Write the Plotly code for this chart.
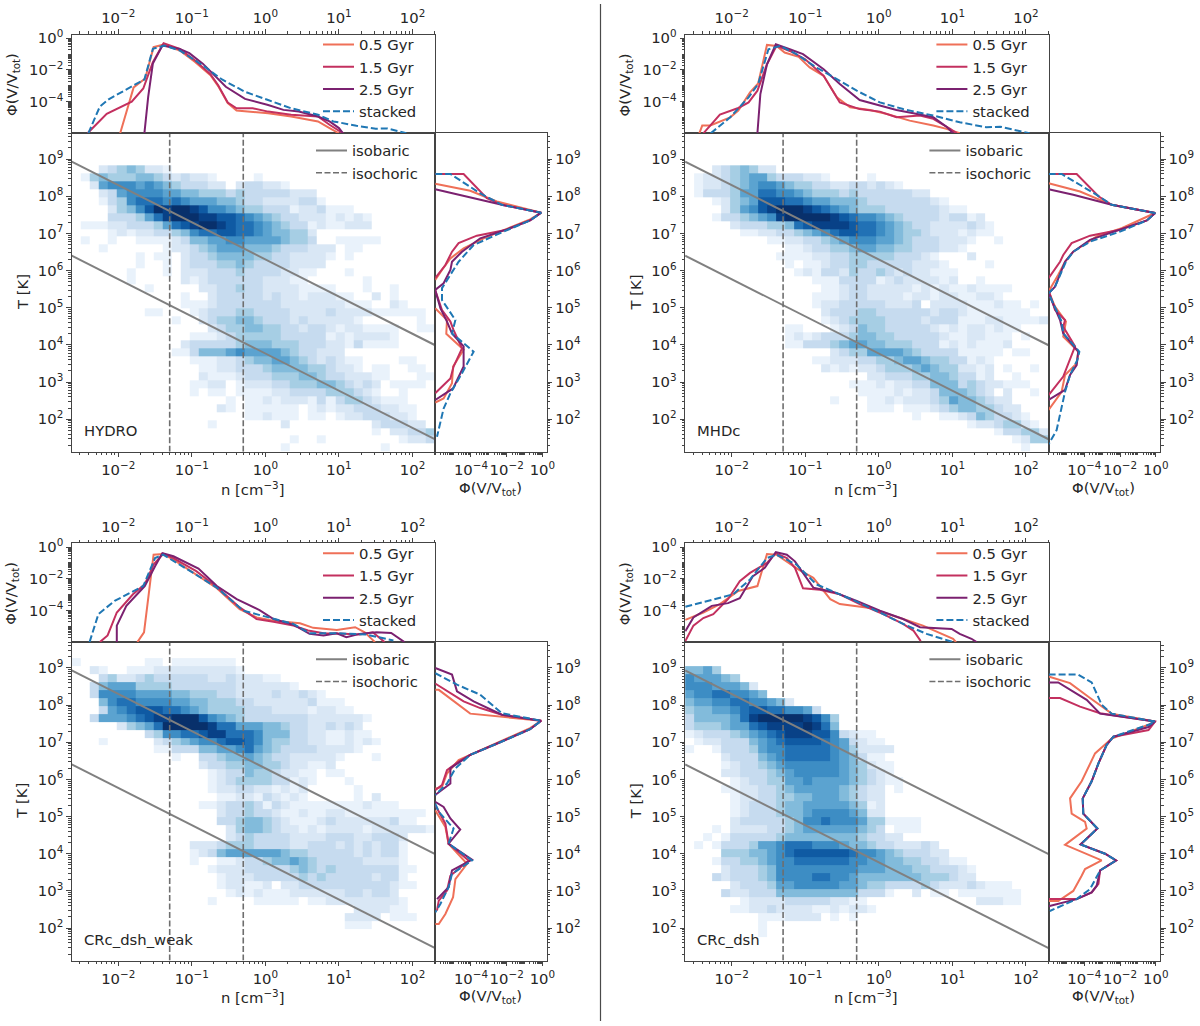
import plotly.graph_objects as go

# ---------- axis extents (log10) ----------
N_RANGE = [-2.633, 2.308]
T_RANGE = [1.128, 9.695]
PHI_RANGE = [-6.0, 0.24]
N_BINS = 40
N_TICKS = [-2, -1, 0, 1, 2]
T_TICKS = [2, 3, 4, 5, 6, 7, 8, 9]
PHI_TICKS_TOP = [0, -2, -4]
PHI_TICKS_RIGHT = [-4, -2, 0]
ISOBARIC_LOG_N = [-2.633, 2.308]
ISOBARIC_HIGH_LOG_T = [8.933, 3.992]
ISOBARIC_LOW_LOG_T = [6.403, 1.462]
ISOCHORIC_N = [0.05, 0.5]
TIME_NAMES = ["0.5 Gyr", "1.5 Gyr", "2.5 Gyr", "stacked"]
PANEL_NAMES = ["HYDRO", "MHDc", "CRc_dsh_weak", "CRc_dsh"]

# ---------- 2D histograms: one text row per T bin (top to bottom), "first_bin:levels", levels 1..b ----------
HYDRO_MAP = ["", "", "", "",
 "3:23454221", "1:145444554323221....1", "2:267776765433322.233221", "3:236777766554443433333222",
 "3:1347888787666554332222331", "4:24579babba97765443331223111", "4:333468abbbaa99876543322212121",
 "1:111223334689abba9887654331211222", "4:12122334578899887655442", "1:1..1..11112355667766665443..11111",
 "3:1......1223456665554333222.11", "7:1.11.23345555443322221.1", "7:1..1.2333445433332222",
 "6:1...1.222333433332211...1", "6:1.....21233333322211......1", "8:1.....223343322221111...1..1",
 "12:1..2333332322122211..2.1", "12:111233333332222222111..21", "8:11...12333443333222232222111111",
 "11:1..234455433323222221......1", "15:234455443323321221111..11", "13:11123444443333312122221",
 "12:233333455544433322131111", "11:1135556766665433222", "13:1112234556654323211....11",
 "14:112233345555443221.11..11", "14:211123334445543322211...11", "13:1122.1222334445543232.1111",
 "13:1.11.1111223333444321..1", "17:1.112122213134432111", "16:21.111111.121223332211",
 "19:112111.11.122333221", "15:1.......2.........233322", "33:1.22334", "24:1..1........1223", "23:1..........1"]

MHDC_MAP = ["", "", "", "",
 "3:2345422", "1:122345664333221....1", "1:12234567765443322332321", "1:13334668877654443433333322",
 "3:12456999887665554333333321", "4:24679abbba98765444333333211", "3:1334567abbbbba9877654333323312",
 "5:233344589aaaa9887654332222321", "6:1122334567899887654432221211", "9:11223345677766543332221..1",
 "11:11233445665544333221", "10:111122334444433321...2", "11:1.1123344333332221....1",
 "12:121332433432322111", "14:1113333123222212..1", "15:112332222212121121111",
 "14:111233222212212211221", "14:122333332223.2222111211.1", "15:23334433333323321111111",
 "15:1234444333323331112211112", "11:11...123544333332121221211", "11:1212333455443333321122111.1",
 "11:1133345665544433312121112", "16:2344666654333311111.11", "14:11222334456654433121",
 "15:2121223444565442212.1..1", "20:22333445543312..1", "18:11121223355534322111",
 "19:111121223555432.2..1", "16:1...1121222346554322", "20:111.1112345544322",
 "25:1..1123543321", "31:12234421", "34:133442", "36:1244", "37:1"]

WEAK_MAP = ["", "",
 "0:1.......11.1111111", "2:21..1112222222221", "3:34223433333322322211", "2:35666444433333332222221",
 "2:37777666655444332222322321", "3:578877776655444332222223111", "3:3678999887654444333222212211",
 "2:3666789aabbb9765433333332222221", "5:24568bbbbba8866655433223232",
 "8:3477889aa8887555332211211", "3:1.....2345677899875443322112121", "9:11333556678654333322221",
 "11:1..3345565433222221...1", "14:233445544322112", "15:123354432211.11", "15:123444433121...1",
 "15:12233221212.....1", "16:1122132121.....1.2", "14:1123343132111111112111",
 "16:23343321121122111111111", "16:3345543211123222222311", "17:24554322121222212222221",
 "17:23433332222333223332", "13:222344433332233323232331", "13:123566666654433333232331",
 "13:1..112334556543333322221", "15:12223333345434333333311", "16:122233333434333332331",
 "16:122112.223333333333211", "17:1212111222222332332", "15:1....11111.11222222221",
 "31:222211", "30:2222.111", "30:111", "", "", "", ""]

DSH_MAP = ["", "", "",
 "0:5564", "0:766654", "0:77766652", "0:677887765", "0:566778877652", "0:455667899887763",
 "0:3555568abbbbba974", "0:344456689aaaaba85", "0:12333456789aaa9973211", "1:122333567899998763211",
 "0:1..13334677888887642222", "4:233356788888765311", "4:1233456777777654211", "4:2233345677777654321",
 "5:1233446676666543211", "4:112233456666654322.1", "5:12233445566654322", "5:12333455666665412",
 "5:12333455677776522", "5:233333457787776441111", "3:1.22223345666666543.111",
 "2:1.13333345555555543322", "1:1.1333466788877765543322232",
 "4:4445567899999987765433322", "3:1334456778888887766554433211", "4:2333457777777776665554433321",
 "3:32333457777887765555555444322", "5:2333466777776654433334322232111",
 "4:3223335555555553331..2.11.1111111", "6:12222333332211............22211",
 "5:1122322221121221", "8:1112222.1.1", "8:1", "8:1", "", "", ""]

# ---------- top panels: log10 n and log10 Phi ----------
H_TOP_05_N = [-1.974,-1.791,-1.634,-1.52,-1.384,-1.164,-0.956,-0.747,-0.642,-0.512,-0.392,-0.172,0.037,0.35,0.715,0.872,1.0]
H_TOP_05_P = [-6,-3.10,-2.54,-0.56,-0.40,-0.77,-1.5,-2.33,-3.02,-4.1,-4.56,-4.63,-4.73,-4.94,-5.25,-5.67,-6]
H_TOP_15_N = [-2.418,-2.157,-1.817,-1.66,-1.53,-1.384,-1.164,-0.956,-0.747,-0.642,-0.512,-0.392,-0.172,0.037,0.35,0.715,0.872,1.055]
H_TOP_15_P = [-6,-4.77,-4.0,-3.17,-1.5,-0.31,-0.67,-1.40,-2.27,-2.96,-4.06,-4.42,-4.42,-4.63,-4.83,-4.94,-5.46,-6]
H_TOP_25_N = [-1.645,-1.593,-1.53,-1.4,-1.164,-1.034,-0.851,-0.538,-0.277,0.037,0.245,0.454,0.715,0.872,1.0,1.055]
H_TOP_25_P = [-6,-3.69,-1.6,-0.46,-0.67,-0.94,-1.6,-3.06,-3.83,-4.21,-4.52,-4.63,-4.94,-5.25,-5.67,-6]
H_TOP_ST_N = [-2.407,-2.25,-2.13,-1.817,-1.645,-1.53,-1.373,-1.164,-0.851,-0.59,-0.277,0.037,0.35,0.715,0.924,1.238,1.5,1.655,1.916]
H_TOP_ST_P = [-6,-4.31,-3.85,-3.06,-2.6,-0.67,-0.46,-0.77,-1.71,-2.6,-3.38,-3.9,-4.42,-4.83,-5.25,-5.52,-5.71,-5.69,-6]

M_TOP_05_N = [-2.44,-2.40,-2.29,-2.02,-1.91,-1.75,-1.64,-1.52,-1.39,-1.28,-1.09,-0.94,-0.75,-0.57,-0.39,-0.12,0.11,0.42,0.74,0.92,1.10]
M_TOP_05_P = [-6,-5.51,-5.51,-4.99,-4.57,-3.42,-2.85,-0.42,-0.48,-0.9,-1.17,-1.84,-2.37,-3.73,-4.36,-4.53,-4.78,-5.2,-5.51,-5.72,-6]
M_TOP_15_N = [-2.385,-2.16,-1.91,-1.77,-1.65,-1.52,-1.39,-1.21,-1,-0.75,-0.53,-0.26,0.015,0.24,0.56,0.74,0.97,1.06]
M_TOP_15_P = [-6,-4.82,-4.4,-4.05,-3.31,-1.64,-0.48,-0.8,-1.32,-2.37,-4.05,-4.47,-4.63,-4.99,-4.88,-5.09,-5.72,-6]
M_TOP_25_N = [-1.65,-1.61,-1.52,-1.4,-1.21,-1.03,-0.75,-0.53,-0.26,0.015,0.24,0.47,0.74,0.92,1.01]
M_TOP_25_P = [-6,-3.52,-1.64,-0.38,-0.69,-1,-1.95,-2.89,-3.9,-4.26,-4.53,-4.74,-4.99,-5.58,-6]
M_TOP_ST_N = [-2.285,-2.02,-1.77,-1.64,-1.5,-1.34,-1.12,-0.85,-0.57,-0.3,0.015,0.33,0.74,1.1,1.46,1.65,2.05]
M_TOP_ST_P = [-6,-4.99,-3.73,-2.89,-0.69,-0.48,-1,-1.84,-2.58,-3.31,-4.05,-4.47,-4.88,-5.3,-5.62,-5.58,-6]

W_TOP_05_N = [-1.74,-1.65,-1.52,-1.39,-1.25,-0.98,-0.66,-0.35,-0.12,0.11,0.47,0.65,0.97,1.22,1.35,1.49]
W_TOP_05_P = [-6,-5.38,-0.48,-0.44,-0.79,-1.63,-2.6,-3.92,-4.44,-4.65,-4.81,-5.1,-5.23,-5.06,-5.38,-6]
W_TOP_15_N = [-2.25,-2.145,-2.02,-1.8,-1.64,-1.52,-1.39,-1.25,-0.94,-0.66,-0.35,-0.12,0.11,0.38,0.58,0.79,1.06,1.28,1.46,1.62]
W_TOP_15_P = [-6,-5.58,-4.13,-2.98,-2.35,-1.1,-0.42,-0.69,-1.52,-2.52,-3.81,-4.54,-4.71,-4.96,-5.27,-5.44,-5.48,-5.52,-5.38,-6]
W_TOP_25_N = [-2.02,-2.02,-1.89,-1.64,-1.5,-1.4,-1.25,-0.91,-0.66,-0.39,-0.08,0.11,0.38,0.6,0.79,0.97,1.1,1.28,1.51,1.71,1.89]
W_TOP_25_P = [-6,-4.96,-3.71,-2.46,-1.21,-0.38,-0.58,-1.35,-2.46,-3.29,-3.98,-4.54,-4.9,-5.48,-5.58,-5.44,-5.69,-5.48,-5.38,-5.42,-6]
W_TOP_ST_N = [-2.39,-2.27,-2.05,-1.66,-1.5,-1.39,-0.98,-0.66,-0.3,0.11,0.38,0.6,0.97,1.37,1.74]
W_TOP_ST_P = [-6,-4.23,-3.4,-2.46,-0.69,-0.48,-1.63,-2.56,-4.02,-4.54,-4.85,-5.44,-5.44,-5.52,-5.9]

D_TOP_05_N = [-2.63,-2.385,-2.16,-1.91,-1.65,-1.52,-1.39,-1.25,-1.09,-0.89,-0.66,-0.53,-0.12,0.33,0.6,1.01,1.05]
D_TOP_05_P = [-4.6,-4.13,-3.6,-2.77,-2.46,-0.44,-0.48,-0.9,-1.42,-1.94,-3.29,-3.6,-3.85,-4.54,-4.96,-5.79,-6]
D_TOP_15_N = [-2.63,-2.52,-2.385,-2.25,-2.05,-1.89,-1.75,-1.52,-1.4,-1.25,-1.14,-1.03,-0.8,-0.53,-0.26,0.06,0.33,0.47,0.57]
D_TOP_15_P = [-5.94,-4.96,-4.48,-4.23,-3.29,-2.15,-1.63,-1,-0.38,-0.69,-1.31,-2.6,-2.69,-2.98,-3.6,-4.23,-4.85,-5.27,-5.94]
D_TOP_25_N = [-2.63,-2.52,-2.27,-2.05,-1.89,-1.71,-1.55,-1.4,-1.25,-1.14,-0.89,-0.62,-0.3,0.015,0.33,0.56,0.99,1.1,1.26,1.33]
D_TOP_25_P = [-5.31,-4.44,-3.71,-3.54,-3.23,-1.83,-1.31,-0.31,-0.48,-0.9,-2.56,-2.83,-3.4,-4.02,-4.54,-5.06,-5.17,-5.48,-5.79,-6]
D_TOP_ST_N = [-2.63,-2.29,-1.98,-1.75,-1.52,-1.39,-1.12,-0.85,-0.57,-0.3,0.015,0.33,0.65,1.01]
D_TOP_ST_P = [-3.77,-3.35,-2.98,-2.04,-0.69,-0.48,-1.1,-2.35,-2.88,-3.44,-4.13,-4.85,-5.48,-6]

# ---------- right panels: log10 Phi and log10 T ----------
H_R_05_P = [-6,-4.04,-2.55,-0.07,-0.69,-1.9,-3.29,-4.41,-5.15,-5.62,-6,None,-6,-5.34,-5.38,-4.41,-5.0,-5.06,-5.53,-6]
H_R_05_T = [8.34,8.15,7.86,7.56,7.38,7.14,6.87,6.60,6.33,6.02,5.75,None,4.99,4.67,4.30,3.87,3.42,2.97,2.56,2.45]
H_R_15_P = [-6,-4.41,-3.11,-2.27,-0.07,-0.69,-1.99,-3.67,-4.69,-5.06,-5.43,-6,None,-6,-5.62,-5.15,-4.97,-4.5,-4.97,-5.15,-6]
H_R_15_T = [8.6,8.6,7.95,7.77,7.56,7.35,7.10,6.94,6.74,6.51,6.15,5.80,None,5.48,4.94,4.63,4.40,3.91,3.42,3.10,2.70]
H_R_25_P = [-6,-4.41,-2.27,-0.07,-0.69,-1.99,-3.48,-4.5,-5.06,-5.15,-5.53,-6,-5.71,-5.34,-5.06,-4.41,-4.41,-5.0,-6]
H_R_25_T = [8.19,8.01,7.77,7.56,7.35,7.11,6.87,6.51,6.24,6.02,5.66,5.48,4.99,4.63,4.31,3.96,3.42,2.83,2.52]
H_R_ST_P = [-6,-5.15,-3.48,-2.27,-0.07,-0.69,-2.36,-3.85,-4.69,-5.62,-5.62,-4.87,-5.06,-3.85,-4.5,-5.15,-5.53,-5.9]
H_R_ST_T = [8.6,8.6,8.08,7.77,7.56,7.35,7.01,6.69,6.24,5.53,5.21,4.67,4.31,3.82,3.24,2.70,2.29,1.53]

M_R_05_P = [-6,-4.24,-2.47,-0.04,-0.41,-1.91,-3.31,-4.62,-5.08,-5.46,-6,-5.64,-5.03,-5.18,-4.34,-4.43,-5.08,-5.27,-6]
M_R_05_T = [8.35,8.13,7.77,7.55,7.47,7.14,6.92,6.51,6.24,5.89,5.44,5.03,4.63,4.22,3.82,3.5,3.19,2.74,2.25]
M_R_15_P = [-6,-4.43,-3.21,-2.47,-0.04,-0.5,-2,-3.68,-4.71,-5.18,-5.36,-6,None,-6,-5.64,-5.08,-5.18,-4.52,-4.8,-5.18,-6]
M_R_15_T = [8.6,8.6,8.0,7.77,7.55,7.35,7.1,6.94,6.74,6.42,6.24,5.8,None,5.48,4.94,4.67,4.49,3.96,3.6,3.15,2.65]
M_R_25_P = [-6,-4.62,-2.47,-0.04,-0.5,-2,-3.68,-4.62,-5.08,-5.64,-6,-5.36,-5.18,-4.34,-4.43,-4.8,-5.08,-6]
M_R_25_T = [8.19,8.04,7.77,7.55,7.35,7.1,6.83,6.51,6.24,5.57,5.39,4.67,4.31,3.82,3.46,3.19,2.79,2.52]
M_R_ST_P = [-6,-5.27,-3.31,-2.47,-0.04,-0.5,-2,-3.68,-4.62,-5.03,-5.64,-6,-5.27,-5.18,-4.28,-4.39,-4.8,-5.08,-5.55,-6]
M_R_ST_T = [8.6,8.6,8.04,7.77,7.55,7.35,7.05,6.78,6.51,6.24,5.57,5.39,4.63,4.31,3.82,3.6,3.19,2.74,1.71,1.33]

W_R_05_P = [-6,-5.8,-4.04,-0.07,-0.69,-2.55,-4.04,-4.69,-5.34,-5.62,-6,None,-6,-5.43,-5.25,-4.22,-4.87,-5.0,-5.43,-5.8,-6]
W_R_05_T = [8.41,8.41,7.77,7.58,7.38,6.97,6.66,6.52,6.16,5.8,5.75,None,5.17,4.72,4.27,3.73,3.32,2.83,2.38,2.11,2.11]
W_R_15_P = [-6,-4.41,-3.48,-2.27,-0.07,-0.69,-2.55,-4.04,-4.69,-5.34,-5.62,-6,None,-6,-5.43,-5.25,-4.13,-5.15,-5.34,-5.8,-5.9]
W_R_15_T = [8.58,8.1,7.92,7.74,7.58,7.35,6.96,6.66,6.48,6.25,5.85,5.71,None,5.31,4.81,4.27,3.82,3.41,3.01,2.74,2.47]
W_R_25_P = [-6,-5.06,-4.78,-3.85,-2.27,-0.07,-0.69,-2.55,-4.04,-5.15,-5.15,-6,None,-6,-5.53,-5.15,-4.6,-5.25,-3.94,-5.06,-5.25,-5.9]
W_R_25_T = [9,8.82,8.37,8.1,7.74,7.58,7.35,6.96,6.66,6.3,5.89,5.58,None,5.4,5.26,4.95,4.65,4.27,3.84,3.55,3.1,2.78]
W_R_ST_P = [-6,-4.78,-3.48,-2.27,-0.07,-0.69,-2.55,-4.04,-4.87,-5.34,-6,None,-6,-5.8,-4.97,-5.25,-3.94,-5.06,-5.25,-5.71,-6]
W_R_ST_T = [8.86,8.55,8.28,7.78,7.58,7.35,6.96,6.66,6.3,5.89,5.58,None,5.35,5.13,4.68,4.27,3.82,3.46,3.1,2.65,2.42]

D_R_05_P = [-6,-4.8,-3.68,-2.47,-0.04,-0.41,-2.47,-3.4,-4.15,-4.8,-4.71,-3.96,-3.87,-4.52,-5.08,-3.03,-3.96,-4.15,-4.62,-5.46,-6]
D_R_05_T = [8.77,8.59,8.19,7.77,7.56,7.47,7.1,6.7,5.95,5.49,5.08,4.86,4.68,4.45,4.24,3.82,3.59,3.41,3.0,2.73,2.73]
D_R_15_P = [-6,-5.36,-4.24,-3.12,-0.04,-0.41,-2.37,-2.75,-3.21,-3.59,-4.09,-4.06,-3.27,-4.21,-2.84,-2.22,-3.12,-3.21,-3.59,-4.43,-6]
D_R_15_T = [8.19,8.19,7.96,7.78,7.56,7.33,7.15,6.93,6.43,5.95,5.49,5.08,4.68,4.25,4.0,3.82,3.55,3.19,2.96,2.78,2.78]
D_R_25_P = [-6,-5.46,-3.87,-3.12,-0.04,-0.41,-2.37,-2.75,-3.21,-3.59,-4.09,-4.06,-3.27,-4.21,-2.84,-2.22,-3.12,-3.31,-3.59,-4.43,-6]
D_R_25_T = [8.61,8.61,8.14,7.77,7.56,7.41,7.15,6.93,6.43,5.95,5.49,5.08,4.68,4.25,4.0,3.82,3.55,3.14,2.96,2.78,2.59]
D_R_ST_P = [-6,-4.34,-3.59,-3.03,-2.47,-0.04,-0.41,-2.37,-2.75,-3.21,-3.59,-4.09,-4.06,-3.27,-4.21,-2.84,-2.22,-3.12,-3.68,-4.43,-5.93]
D_R_ST_T = [8.82,8.82,8.61,8.01,7.77,7.56,7.47,7.15,6.93,6.43,5.95,5.49,5.08,4.68,4.25,4.0,3.82,3.55,3.05,2.78,2.46]

TOP = [
    [(H_TOP_05_N, H_TOP_05_P), (H_TOP_15_N, H_TOP_15_P), (H_TOP_25_N, H_TOP_25_P), (H_TOP_ST_N, H_TOP_ST_P)],
    [(M_TOP_05_N, M_TOP_05_P), (M_TOP_15_N, M_TOP_15_P), (M_TOP_25_N, M_TOP_25_P), (M_TOP_ST_N, M_TOP_ST_P)],
    [(W_TOP_05_N, W_TOP_05_P), (W_TOP_15_N, W_TOP_15_P), (W_TOP_25_N, W_TOP_25_P), (W_TOP_ST_N, W_TOP_ST_P)],
    [(D_TOP_05_N, D_TOP_05_P), (D_TOP_15_N, D_TOP_15_P), (D_TOP_25_N, D_TOP_25_P), (D_TOP_ST_N, D_TOP_ST_P)],
]
RIGHT = [
    [(H_R_05_P, H_R_05_T), (H_R_15_P, H_R_15_T), (H_R_25_P, H_R_25_T), (H_R_ST_P, H_R_ST_T)],
    [(M_R_05_P, M_R_05_T), (M_R_15_P, M_R_15_T), (M_R_25_P, M_R_25_T), (M_R_ST_P, M_R_ST_T)],
    [(W_R_05_P, W_R_05_T), (W_R_15_P, W_R_15_T), (W_R_25_P, W_R_25_T), (W_R_ST_P, W_R_ST_T)],
    [(D_R_05_P, D_R_05_T), (D_R_15_P, D_R_15_T), (D_R_25_P, D_R_25_T), (D_R_ST_P, D_R_ST_T)],
]
MAPS = [HYDRO_MAP, MHDC_MAP, WEAK_MAP, DSH_MAP]

# ---------- styles ----------
FONT = "DejaVu Sans"
INK = "#262626"
AX = "#444444"
GRAY = "#808080"
LINE_COLORS = ["#ef7058", "#c3305f", "#7b2170", "#1f77b4"]
BLUES = ["#f7fbff", "#e9f2fb", "#d9e7f5", "#c6dbef", "#a6cee4", "#82bbdb", "#5ba3d0",
         "#3d8dc4", "#2171b5", "#0f5aa3", "#084187", "#08306b"]
COLORSCALE = [[i / 11, c] for i, c in enumerate(BLUES)]
W, H = 1200, 1026
OFFSETS = [(0, 0), (613.4, 0), (0, 508.8), (613.4, 508.8)]


def lin(a, b, n):
    return [a + (b - a) * i / n for i in range(n + 1)]


def up(vals):
    return [None if v is None else 10 ** v for v in vals]


def decode(rows):
    out = []
    for row in rows:
        cells = [None] * N_BINS
        if row:
            start, levels = row.split(":")
            for i, ch in enumerate(levels):
                j = int(start) + i
                if ch != "." and j < N_BINS:
                    cells[j] = int(ch, 16)
        out.append(cells)
    return out[::-1]


def sup(e):
    return "10<sup>" + str(e).replace("-", "\u2212") + "</sup>"


def axis(rng, ticks, side, x0, x1, anchor):
    return dict(type="log", range=rng, domain=[x0, x1], anchor=anchor, side=side,
                showline=True, linecolor=AX, linewidth=1, mirror=True, showgrid=False, zeroline=False,
                ticks="outside", ticklen=4.5, tickwidth=1, tickcolor=AX, tickangle=0,
                tickmode="array", tickvals=[10.0 ** t for t in ticks],
                ticktext=[sup(t) for t in ticks],
                tickfont=dict(family=FONT, size=14.8, color=INK),
                minor=dict(ticks="outside", ticklen=2.5, tickwidth=0.8, tickcolor=AX, showgrid=False, dtick="D1"))


fig = go.Figure()
layout = {}
annotations = []
n_edges = [10 ** v for v in lin(N_RANGE[0], N_RANGE[1], N_BINS)]
t_edges = [10 ** v for v in lin(T_RANGE[0], T_RANGE[1], N_BINS)]

for k, (ox, oy) in enumerate(OFFSETS):
    a, b, c = 3 * k + 1, 3 * k + 2, 3 * k + 3
    xa, ya = ("x%d" % a, "y%d" % a)
    xb, yb = ("x%d" % b, "y%d" % b)
    xc, yc = ("x%d" % c, "y%d" % c)
    left, mid, right = (71.7 + ox) / W, (435.2 + ox) / W, (546.7 + ox) / W
    main_top, main_bot = 1 - (133.3 + oy) / H, 1 - (451.7 + oy) / H
    top_top = 1 - (34.5 + oy) / H

    # main map
    fig.add_trace(go.Heatmap(x=n_edges, y=t_edges, z=decode(MAPS[k]), colorscale=COLORSCALE,
                             zmin=0, zmax=11, showscale=False, hoverinfo="skip",
                             xaxis=xa, yaxis=ya))
    leg_main = "legend%d" % (2 * k + 1) if k else "legend"
    leg_top = "legend%d" % (2 * k + 2)
    fig.add_trace(go.Scatter(x=up(ISOBARIC_LOG_N), y=up(ISOBARIC_HIGH_LOG_T), mode="lines", name="isobaric",
                             line=dict(color=GRAY, width=2), xaxis=xa, yaxis=ya, legend=leg_main))
    fig.add_trace(go.Scatter(x=up(ISOBARIC_LOG_N), y=up(ISOBARIC_LOW_LOG_T), mode="lines", showlegend=False,
                             line=dict(color=GRAY, width=2), xaxis=xa, yaxis=ya))
    fig.add_trace(go.Scatter(x=[ISOCHORIC_N[0], ISOCHORIC_N[0], None, ISOCHORIC_N[1], ISOCHORIC_N[1]],
                             y=[10 ** T_RANGE[0], 10 ** T_RANGE[1], None, 10 ** T_RANGE[0], 10 ** T_RANGE[1]],
                             mode="lines", name="isochoric",
                             line=dict(color="#6e6e6e", width=1.6, dash="6px,2.5px"),
                             xaxis=xa, yaxis=ya, legend=leg_main))
    # top and right line panels
    for j, name in enumerate(TIME_NAMES):
        style = dict(color=LINE_COLORS[j], width=2)
        if j == 3:
            style["dash"] = "7px,3px"
        nv, pv = TOP[k][j]
        fig.add_trace(go.Scatter(x=up(nv), y=up(pv), mode="lines", name=name, line=style,
                                 xaxis=xb, yaxis=yb, legend=leg_top))
        pv, tv = RIGHT[k][j]
        fig.add_trace(go.Scatter(x=up(pv), y=up(tv), mode="lines", showlegend=False, line=style,
                                 xaxis=xc, yaxis=yc))

    layout["xaxis%d" % a] = axis(N_RANGE, N_TICKS, "bottom", left, mid, ya)
    layout["yaxis%d" % a] = axis(T_RANGE, T_TICKS, "left", main_bot, main_top, xa)
    layout["xaxis%d" % b] = axis(N_RANGE, N_TICKS, "top", left, mid, yb)
    layout["yaxis%d" % b] = axis(PHI_RANGE, PHI_TICKS_TOP, "left", main_top, top_top, xb)
    layout["xaxis%d" % c] = axis(PHI_RANGE, PHI_TICKS_RIGHT, "bottom", mid, right, yc)
    layout["yaxis%d" % c] = axis(T_RANGE, T_TICKS, "right", main_bot, main_top, xc)

    leg_style = dict(bgcolor="rgba(0,0,0,0)", borderwidth=0, itemwidth=31, xanchor="left", yanchor="top",
                     font=dict(family=FONT, size=14.8, color=INK), tracegroupgap=0)
    layout[leg_main] = dict(x=(311 + ox) / W, y=1 - (134.4 + oy) / H, **leg_style)
    layout[leg_top] = dict(x=(318 + ox) / W, y=1 - (28.4 + oy) / H, **leg_style)

    def note(txt, px, py, size=14.8, angle=0, anchor="center"):
        annotations.append(dict(text=txt, x=(px + ox) / W, y=1 - (py + oy) / H, xref="paper", yref="paper",
                                showarrow=False, textangle=angle, xanchor=anchor, yanchor="middle",
                                font=dict(family=FONT, size=size, color=INK)))

    note("n [cm<sup>\u22123</sup>]", 252, 488)
    note("T [K]", 22, 292, angle=-90)
    note("\u03a6(V/V<sub>tot</sub>)", 490, 488)
    note("\u03a6(V/V<sub>tot</sub>)", 12, 85, angle=-90)
    note(PANEL_NAMES[k], 82, 431, anchor="left")

fig.update_layout(
    autosize=True, margin=dict(l=0, r=0, t=0, b=0, autoexpand=False), paper_bgcolor="white", plot_bgcolor="white",
    showlegend=True, annotations=annotations, font=dict(family=FONT),
    shapes=[dict(type="line", xref="paper", yref="paper", x0=600.5 / W, x1=600.5 / W,
                 y0=1 - 4 / H, y1=1 - 1021 / H, line=dict(color="#4a4a4a", width=1.2))],
    **layout)

fig.write_html("out.html", config={"displayModeBar": False, "responsive": False},
               default_width="1200px;position:absolute;left:0;top:0", default_height="1026px")
